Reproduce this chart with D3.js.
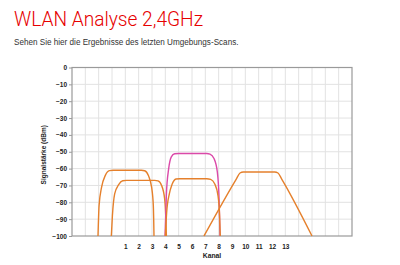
<!DOCTYPE html>
<html>
<head>
<meta charset="utf-8">
<script src="https://cdn.jsdelivr.net/npm/d3@7"></script>
<style>
  body { margin: 0; background: #fff; }
  svg text { font-family: "Liberation Sans", Arial, sans-serif; }
</style>
</head>
<body>
<div id="chart"></div>
<script>
// channel ticks shown under the x axis
var channelTicks = [1, 2, 3, 4, 5, 6, 7, 8, 9, 10, 11, 12, 13];
var dbmTicks = [0, -10, -20, -30, -40, -50, -60, -70, -80, -90, -100];

// networks: [kanal, dBm]
var netA = [[-1.05,-100],[-0.97,-82],[-0.78,-71],[-0.5,-64],[-0.2,-61.2],[0.1,-61],[2.2,-61],[2.45,-61.3],[2.72,-64],[2.97,-71],[3.1,-82],[3.15,-100]];
var netB = [[-0.05,-100],[0.03,-88],[0.2,-75],[0.5,-69.5],[0.8,-67.2],[1.1,-67],[3.2,-67],[3.45,-67.3],[3.72,-70],[3.95,-78],[4.03,-88],[4.08,-100]];
var netPink = [[3.98,-100],[4.08,-75],[4.25,-60],[4.45,-53],[4.7,-51.2],[5.0,-51],[7.1,-51],[7.35,-51.4],[7.65,-54],[7.9,-62],[8.03,-78],[8.1,-100]];
var netC = [[4.0,-100],[4.1,-86],[4.3,-75],[4.5,-69.5],[4.8,-66.2],[5.1,-66],[7.1,-66],[7.4,-66.4],[7.7,-69],[7.95,-76],[8.07,-88],[8.12,-100]];
var netD = [[6.9,-100],[9.3,-66.5],[9.6,-62.6],[9.85,-62],[12.2,-62],[12.45,-62.6],[12.75,-66.5],[15.0,-100]];

var networks = [
  {pts: netA, color: "#e5802c"},
  {pts: netB, color: "#e5802c"},
  {pts: netPink, color: "#db4aa9"},
  {pts: netC, color: "#e5802c"},
  {pts: netD, color: "#e5802c"}
];

var svg = d3.select("#chart").append("svg")
    .attr("width", 400)
    .attr("height", 265);

// heading
svg.append("text")
    .attr("x", 14).attr("y", 26)
    .attr("textLength", 189)
    .attr("lengthAdjust", "spacingAndGlyphs")
    .style("font-family", "Roboto, sans-serif")
    .style("font-weight", 300)
    .style("font-size", "21px")
    .style("fill", "#e60000")
    .text("WLAN Analyse 2,4GHz");

svg.append("text")
    .attr("x", 14).attr("y", 45)
    .style("font-size", "8.15px")
    .style("fill", "#333")
    .text("Sehen Sie hier die Ergebnisse des letzten Umgebungs-Scans.");

var margin = {top: 67.5, left: 72, width: 280, height: 168.5};

var g = svg.append("g")
    .attr("transform", "translate(" + margin.left + "," + margin.top + ")");

var x = d3.scaleLinear().domain([-3, 18]).range([0, margin.width]);
var y = d3.scaleLinear().domain([-100, 0]).range([margin.height, 0]);

// grid
g.append("g").selectAll("line")
    .data(d3.range(-2, 18))
  .enter().append("line")
    .attr("x1", function(d) { return x(d); })
    .attr("x2", function(d) { return x(d); })
    .attr("y1", 0).attr("y2", margin.height)
    .style("stroke", "#e2e2e2");

g.append("g").selectAll("line")
    .data(dbmTicks.slice(1, -1))
  .enter().append("line")
    .attr("x1", 0).attr("x2", margin.width)
    .attr("y1", function(d) { return y(d); })
    .attr("y2", function(d) { return y(d); })
    .style("stroke", "#e2e2e2");

// frame
g.append("rect")
    .attr("width", margin.width).attr("height", margin.height)
    .style("fill", "none")
    .style("stroke", "#9a9a9a")
    .style("stroke-width", 1.2);

// y axis
var yAxis = d3.axisLeft(y).tickValues(dbmTicks).tickSize(3).tickPadding(2);
var ya = g.append("g").call(yAxis);
ya.select(".domain").remove();
ya.selectAll("line").style("stroke", "#9a9a9a");
ya.selectAll("text")
    .style("font-size", "6.5px")
    .style("font-weight", "bold")
    .style("fill", "#222");

// x axis labels
var xAxis = d3.axisBottom(x).tickValues(channelTicks).tickSize(0).tickPadding(8);
var xa = g.append("g")
    .attr("transform", "translate(0," + margin.height + ")")
    .call(xAxis);
xa.select(".domain").remove();
xa.selectAll("text")
    .style("font-size", "6.5px")
    .style("font-weight", "bold")
    .style("fill", "#222");

// axis titles
g.append("text")
    .attr("x", margin.width / 2)
    .attr("y", margin.height + 22)
    .style("text-anchor", "middle")
    .style("font-size", "6.8px")
    .style("font-weight", "bold")
    .style("fill", "#222")
    .text("Kanal");

g.append("text")
    .attr("transform", "rotate(-90)")
    .attr("x", -margin.height / 2 - 3)
    .attr("y", -26)
    .style("text-anchor", "middle")
    .style("font-size", "6.5px")
    .style("font-weight", "bold")
    .style("fill", "#222")
    .text("Signalstärke (dBm)");

// signal curves
var line = d3.line()
    .x(function(d) { return x(d[0]); })
    .y(function(d) { return y(d[1]); })
    .curve(d3.curveMonotoneX);

g.append("g").selectAll("path")
    .data(networks)
  .enter().append("path")
    .attr("d", function(d) { return line(d.pts); })
    .style("fill", "none")
    .style("stroke", function(d) { return d.color; })
    .style("stroke-width", 1.4);
</script>
</body>
</html>
